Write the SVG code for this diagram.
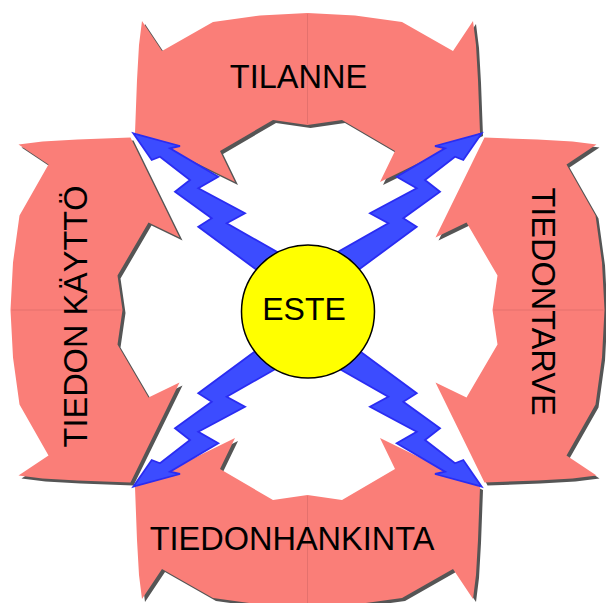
<svg xmlns="http://www.w3.org/2000/svg" width="606" height="603" viewBox="0 0 606 603">
<style>
.arrow{fill:#FA7E78}
.shadow{fill:#555555}
.seam{stroke:#E4716D;stroke-width:1;fill:none}
.bolt{fill:#3C4CFF;stroke:#2A2CF2;stroke-width:1.8;stroke-linejoin:miter}
.lbl{font-family:"Liberation Sans",Arial,sans-serif;font-size:32.5px;fill:#000000;text-anchor:middle}
</style>
<defs>
<polygon id="band" points="135,133 137,80 139,45 142,21 162,51 213,22 260,15.5 307.5,13 355,15.5 402,22 453,51 473,21 476,45 478,80 480,133 380,182 395,151 342,120 307.5,125 273,120 220,151 235,182"/>
<polygon id="boltShape" points="133.3,133.3 180,146 170,148.3 218.3,176.7 198.3,188.3 245,213.3 226.7,223.3 291.7,260.2 276.7,284.8 198.3,226.7 211.7,218.3 175,191.7 190,180 160,156.7 151.7,160"/>
</defs>
<g id="shadows">
<use href="#band" class="shadow" transform="translate(3,3)"/>
<use href="#band" class="shadow" transform="translate(3,3) rotate(90 307.5 310)"/>
<use href="#band" class="shadow" transform="translate(3,3) rotate(180 307.5 310)"/>
<use href="#band" class="shadow" transform="translate(3,3) rotate(270 307.5 310)"/>
</g>
<g id="tilanne">
<use href="#band" class="arrow"/>
<line class="seam" x1="307.5" y1="14" x2="307.5" y2="124"/>
<text class="lbl" x="298.5" y="88">TILANNE</text>
</g>
<g id="tiedontarve">
<g transform="rotate(90 307.5 310)">
<use href="#band" class="arrow"/>
<line class="seam" x1="307.5" y1="14" x2="307.5" y2="124"/>
</g>
<text class="lbl" transform="translate(532,301.5) rotate(90)">TIEDONTARVE</text>
</g>
<g id="tiedonhankinta">
<g transform="rotate(180 307.5 310)">
<use href="#band" class="arrow"/>
<line class="seam" x1="307.5" y1="14" x2="307.5" y2="124"/>
</g>
<text class="lbl" x="292" y="550">TIEDONHANKINTA</text>
</g>
<g id="tiedon-kaytto">
<g transform="rotate(270 307.5 310)">
<use href="#band" class="arrow"/>
<line class="seam" x1="307.5" y1="14" x2="307.5" y2="124"/>
</g>
<text class="lbl" transform="translate(87,316.5) rotate(-90)">TIEDON KÄYTTÖ</text>
</g>
<g id="connectors">
<use href="#boltShape" class="bolt"/>
<use href="#boltShape" class="bolt" transform="matrix(-1 0 0 1 615 0)"/>
<use href="#boltShape" class="bolt" transform="matrix(1 0 0 -1 0 620)"/>
<use href="#boltShape" class="bolt" transform="matrix(-1 0 0 -1 615 620)"/>
</g>
<g id="este">
<circle cx="308" cy="311.5" r="66.5" fill="#FFFF00" stroke="#000000" stroke-width="1.5"/>
<text class="lbl" x="304" y="320" style="font-size:32px">ESTE</text>
</g>
</svg>
